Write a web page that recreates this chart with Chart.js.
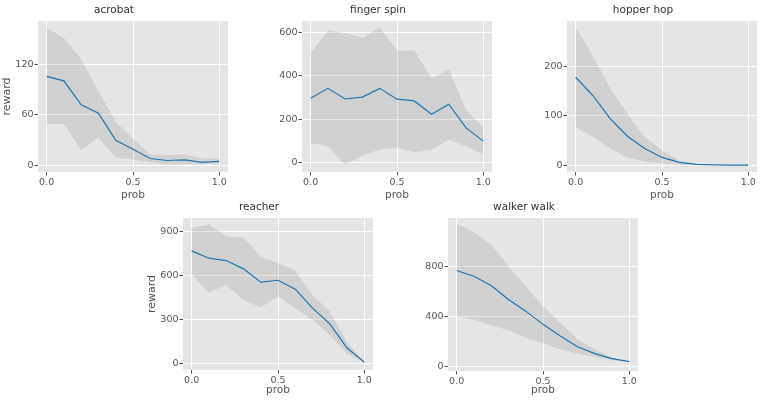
<!DOCTYPE html>
<html>
<head>
<meta charset="utf-8">
<script src="https://cdn.jsdelivr.net/npm/chart.js@4.4.1/dist/chart.umd.min.js"></script>
<style>
  html, body { margin: 0; padding: 0; background: #fff; }
  #wrap { position: relative; width: 761px; height: 400px; overflow: hidden; }
  .panel { position: absolute; }
</style>
</head>
<body>
<div id="wrap"></div>
<script>
// x values shared by every subplot
const probs = [0.0, 0.1, 0.2, 0.3, 0.4, 0.5, 0.6, 0.7, 0.8, 0.9, 1.0];
const xTicks = [0, 0.5, 1];

// acrobat
const acrobatMean  = [106, 100.6, 72, 62, 29.7, 19, 7.9, 5.5, 6.3, 3.2, 4.4];
const acrobatUpper = [164, 151.7, 126.7, 89, 51.5, 31.7, 12.7, 11.9, 13, 8, 8];
const acrobatLower = [48.7, 49.5, 17.8, 32.9, 9.1, 6.7, 3.6, 0.8, 1.2, 1.2, 2];
const acrobatTicks = [0, 60, 120];

// finger spin
const fingerMean  = [296, 342, 293, 302, 342, 292, 284, 223, 269, 160, 99];
const fingerUpper = [504, 608, 597, 574, 623, 516, 516, 390, 430, 243, 160];
const fingerLower = [91, 76, -11, 33, 61, 67, 49, 58, 106, 76, 38];
const fingerTicks = [0, 200, 400, 600];

// hopper hop
const hopperMean  = [178, 141, 94, 58.6, 33.7, 15.5, 5.4, 1.3, 0.5, 0, 0];
const hopperUpper = [279, 222, 155, 104, 57, 30, 10, 2.7, 0.7, 0.2, 0];
const hopperLower = [77, 57, 33.7, 15.5, 8, 3.4, 1.3, 0.2, 0, 0, 0];
const hopperTicks = [0, 100, 200];

// reacher
const reacherMean  = [768, 718, 702, 645, 554, 567, 506, 376, 269, 103, 7];
const reacherUpper = [923, 950, 866, 861, 729, 684, 633, 467, 353, 141, 11];
const reacherLower = [604, 483, 535, 433, 380, 456, 376, 296, 194, 64, 0];
const reacherTicks = [0, 300, 600, 900];

// walker walk
const walkerMean  = [771, 725, 651, 539, 445, 339, 245, 160, 104, 64, 40];
const walkerUpper = [1144, 1080, 979, 805, 645, 485, 352, 219, 139, 72, 40];
const walkerLower = [400, 379, 331, 291, 232, 187, 139, 104, 77, 53, 40];
const walkerTicks = [0, 400, 800];

// plot areas in page pixels (left, top, width, height) + axis limits
const panels = [
  { title: 'acrobat',     mean: acrobatMean, upper: acrobatUpper, lower: acrobatLower, ticks: acrobatTicks,
    ylim: [-8.2, 172],  ylabel: 'reward', L: 38,  T: 21,  W: 190, H: 151, xh: 30 },
  { title: 'finger spin', mean: fingerMean,  upper: fingerUpper,  lower: fingerLower,  ticks: fingerTicks,
    ylim: [-43, 652],   ylabel: '',       L: 302, T: 21,  W: 190, H: 151, xh: 30 },
  { title: 'hopper hop',  mean: hopperMean,  upper: hopperUpper,  lower: hopperLower,  ticks: hopperTicks,
    ylim: [-14, 292],   ylabel: '',       L: 567, T: 21,  W: 190, H: 151, xh: 30 },
  { title: 'reacher',     mean: reacherMean, upper: reacherUpper, lower: reacherLower, ticks: reacherTicks,
    ylim: [-47, 993],   ylabel: 'reward', L: 183, T: 218, W: 190, H: 152, xh: 27 },
  { title: 'walker walk', mean: walkerMean,  upper: walkerUpper,  lower: walkerLower,  ticks: walkerTicks,
    ylim: [-35, 1192],  ylabel: '',       L: 448, T: 218, W: 190, H: 153, xh: 26 }
];

const FONT = 'DejaVu Sans';
const YAXIS_W = 38;
const TITLE_H = 21;
const PAD_R = 4;

// ggplot-like grey plot background
const plotBg = {
  id: 'plotBg',
  beforeDraw(chart) {
    const a = chart.chartArea;
    const ctx = chart.ctx;
    ctx.save();
    ctx.fillStyle = '#E5E5E5';
    ctx.fillRect(a.left, a.top, a.right - a.left, a.bottom - a.top);
    ctx.restore();
  }
};

const wrap = document.getElementById('wrap');

panels.forEach(p => {
  const w = YAXIS_W + p.W + PAD_R;
  const h = TITLE_H + p.H + p.xh;
  const div = document.createElement('div');
  div.className = 'panel';
  div.style.left = (p.L - YAXIS_W) + 'px';
  div.style.top = (p.T - TITLE_H) + 'px';
  div.style.width = w + 'px';
  div.style.height = h + 'px';
  const canvas = document.createElement('canvas');
  div.appendChild(canvas);
  wrap.appendChild(div);

  const pts = arr => probs.map((x, i) => ({ x: x, y: arr[i] }));

  new Chart(canvas.getContext('2d'), {
    type: 'line',
    data: {
      datasets: [
        { data: pts(p.mean), borderColor: '#1f77b4', borderWidth: 1.2, pointRadius: 0, fill: false, tension: 0 },
        { data: pts(p.upper), borderWidth: 0, pointRadius: 0, fill: '+1', backgroundColor: 'rgba(128,128,128,0.2)', tension: 0 },
        { data: pts(p.lower), borderWidth: 0, pointRadius: 0, fill: false, tension: 0 }
      ]
    },
    options: {
      responsive: true,
      maintainAspectRatio: false,
      animation: false,
      events: [],
      layout: { padding: { left: 0, right: PAD_R, top: 0, bottom: 0 } },
      plugins: {
        legend: { display: false },
        tooltip: { enabled: false },
        title: {
          display: true,
          text: p.title,
          color: '#333',
          font: { family: FONT, size: 10.5, weight: 'normal' },
          padding: { top: 4.2, bottom: 4.2 }
        }
      },
      scales: {
        x: {
          type: 'linear',
          min: -0.05,
          max: 1.05,
          afterBuildTicks: axis => { axis.ticks = xTicks.map(v => ({ value: v })); },
          afterFit: scale => { scale.height = p.xh; },
          grid: { color: '#ffffff', lineWidth: 1, tickColor: '#555555', tickLength: 3.5 },
          border: { display: false },
          ticks: { color: '#555555', font: { family: FONT, size: 9.5 }, padding: 1, maxRotation: 0,
                   callback: v => Number(v).toFixed(1) },
          title: { display: true, text: 'prob', color: '#555555', font: { family: FONT, size: 10.5 },
                   padding: { top: 0, bottom: 0 } }
        },
        y: {
          min: p.ylim[0],
          max: p.ylim[1],
          afterBuildTicks: axis => { axis.ticks = p.ticks.map(v => ({ value: v })); },
          afterFit: scale => { scale.width = YAXIS_W; },
          grid: { color: '#ffffff', lineWidth: 1, tickColor: '#555555', tickLength: 3.5 },
          border: { display: false },
          ticks: { color: '#555555', font: { family: FONT, size: 9.5 }, padding: 1,
                   callback: v => String(v) },
          title: { display: p.ylabel !== '', text: p.ylabel, color: '#555555', font: { family: FONT, size: 11 },
                   padding: { top: 1, bottom: 0 } }
        }
      }
    },
    plugins: [plotBg]
  });
});
</script>
</body>
</html>
